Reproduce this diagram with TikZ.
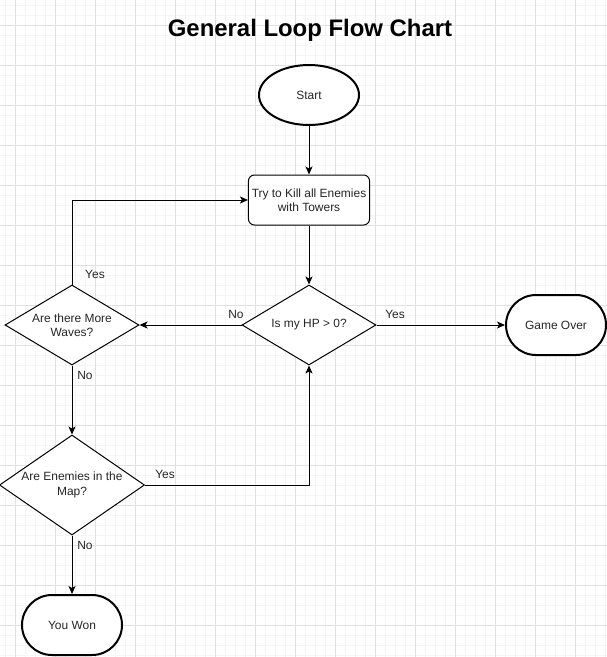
\documentclass[tikz,border=0pt]{standalone}
\usepackage{fontspec}
\setmainfont{Liberation Sans}
\usetikzlibrary{positioning, shapes.geometric, arrows.meta}

\begin{document}
\begin{tikzpicture}[x=1bp, y=-1bp, every node/.style={font=\fontsize{12}{14.5}\selectfont, text=black!85}]
  % Styles
  \tikzset{
    startstop/.style = {draw, shape=ellipse, line width=2bp, minimum width=100bp, minimum height=60bp, fill=white},
    terminal/.style = {draw, shape=rectangle, line width=2bp, rounded corners=30bp, minimum width=100bp, minimum height=60bp, fill=white},
    process/.style = {draw, shape=rectangle, line width=1bp, rounded corners=6bp, minimum width=120bp, minimum height=50bp, align=center, fill=white},
    decision/.style = {draw, shape=diamond, line width=1bp, inner sep=0pt, align=center, fill=white},
    answer/.style = {inner sep=0pt},
    link/.style = {-{Stealth[length=8bp, width=7bp, inset=2bp]}, line width=1bp},
    minorline/.style = {draw=black!4, line width=1bp},
    majorline/.style = {draw=black!12, line width=1bp}
  }

  \useasboundingbox (0,0) rectangle (607,657);

  % Grid
  \foreach \x in {5.5,15.5,...,605.5} \draw[minorline] (\x,0) -- (\x,657);
  \foreach \y in {5.5,15.5,...,655.5} \draw[minorline] (0,\y) -- (607,\y);
  \foreach \x in {15.5,55.5,...,595.5} \draw[majorline] (\x,0) -- (\x,657);
  \foreach \y in {25.5,65.5,...,625.5} \draw[majorline] (0,\y) -- (607,\y);

  % Title
  \node[font=\fontsize{24}{28}\selectfont\bfseries, text=black] (Title) at (310,30) {General Loop Flow Chart};

  % Steps
  \node[startstop] (Start) at (309,95) {Start};
  \node[process] (Attack) at (309,200) {Try to Kill all Enemies\\with Towers};
  \node[decision, minimum width=134bp, minimum height=80bp, aspect=1.675] (HPCheck) at (309,325) {Is my HP > 0?};
  \node[terminal] (GameOver) at (556,325) {Game Over};

  % Checks on the left
  \node[decision, minimum width=134bp, minimum height=80bp, aspect=1.675] (MoreWaves) at (72,325) {Are there More\\Waves?};
  \node[decision, minimum width=145bp, minimum height=100bp, aspect=1.45] (EnemiesLeft) at (72,485) {Are Enemies in the\\Map?};
  \node[terminal] (YouWon) at (72,625) {You Won};

  % Connections
  \draw[link] (Start) -- (Attack);
  \draw[link] (Attack) -- (HPCheck);
  \draw[link] (HPCheck) -- (MoreWaves);
  \draw[link] (HPCheck) -- (GameOver);
  \draw[link] (MoreWaves.north) |- (Attack.west);
  \draw[link] (MoreWaves) -- (EnemiesLeft);
  \draw[link] (EnemiesLeft.east) -| (HPCheck.south);
  \draw[link] (EnemiesLeft) -- (YouWon);

  % Answers
  \node[answer] (HPNo) at (236,314) {No};
  \node[answer] (HPYes) at (395,314) {Yes};
  \node[answer] (WavesYes) at (95,274) {Yes};
  \node[answer] (WavesNo) at (85,375) {No};
  \node[answer] (EnemiesYes) at (165,474) {Yes};
  \node[answer] (EnemiesNo) at (85,545) {No};

\end{tikzpicture}
\end{document}
